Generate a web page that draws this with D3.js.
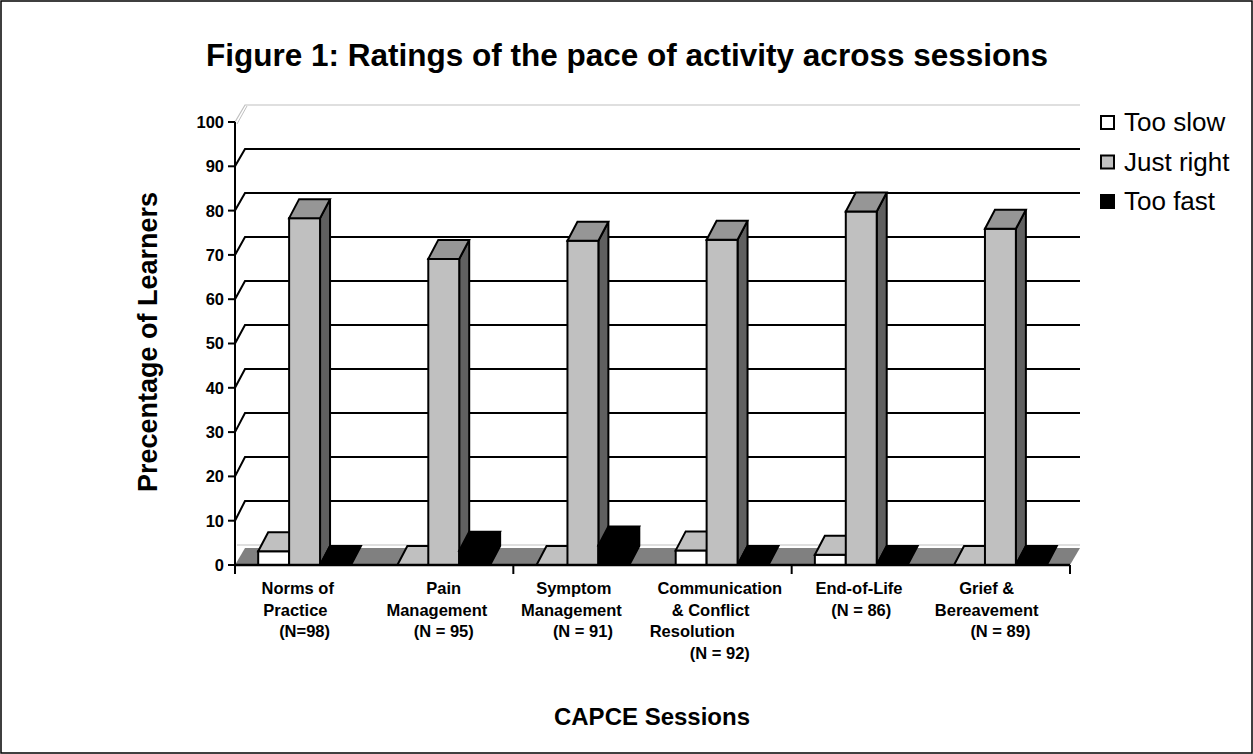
<!DOCTYPE html>
<html>
<head>
<meta charset="utf-8">
<script src="https://cdn.jsdelivr.net/npm/d3@7/dist/d3.min.js"></script>
<style>
  html, body { margin: 0; padding: 0; background: #fff; }
  svg { display: block; }
  text { font-family: Arial, "Liberation Sans", sans-serif; fill: #000; white-space: pre; }
</style>
</head>
<body>
<svg id="chart" width="1253" height="754"></svg>
<script>
// Session labels, one entry per line (spaces keep Excel-style offsets)
const categories = [
  ["Norms of   ", "Practice    ", "(N=98)"],
  ["Pain", "Management   ", "(N = 95)"],
  ["Symptom    ", "Management     ", "(N = 91)"],
  ["Communication ", "& Conflict     ", "Resolution             ", "(N = 92) "],
  ["End-of-Life ", "(N = 86)"],
  ["Grief &      ", "Bereavement      ", "(N = 89)"]
];
const seriesNames = ["Too slow", "Just right", "Too fast"];
const tooSlow   = [3.1, 0, 0, 3.3, 2.3, 0];
const justRight = [78.3, 69.1, 73.2, 73.4, 79.8, 75.9];
const tooFast   = [0, 3.2, 4.4, 0, 0, 0];
const yTicks = [0, 10, 20, 30, 40, 50, 60, 70, 80, 90, 100];

const values = [tooSlow, justRight, tooFast];
// front / top / side face colours per series
const faceColors = [
  { front: "#ffffff", top: "#c0c0c0", side: "#969696" },
  { front: "#c0c0c0", top: "#969696", side: "#606060" },
  { front: "#000000", top: "#000000", side: "#000000" }
];

const svg = d3.select("#chart");

// outer chart border
svg.append("rect").attr("x", 1).attr("y", 1).attr("width", 1251).attr("height", 752)
  .attr("fill", "none").attr("stroke", "#000").attr("stroke-width", 1.5);

// layout
const x0 = 235, x1 = 1070, yBase = 565, yTop = 122;
const wallDx = 10;            // depth offset of the back wall
const barDx = 10, barDy = 19; // depth offset of bars

const y = d3.scaleLinear().domain([0, 100]).range([yBase, yTop]);
const yBack = d3.scaleLinear().domain([0, 100]).range([545, 105]);
const xCat = d3.scaleBand().domain(d3.range(categories.length)).range([x0, x1]).paddingInner(0).paddingOuter(0);
const xSer = d3.scaleBand().domain(d3.range(seriesNames.length)).range([0, xCat.bandwidth()]).paddingInner(0).paddingOuter(0.75);

// back wall outline (light grey)
const wall = svg.append("g");
wall.append("path")
  .attr("d", `M${x0},${y(100)} L${x0 + wallDx},${yBack(100)} L${x1 + wallDx},${yBack(100)}`)
  .attr("fill", "none").attr("stroke", "#c0c0c0").attr("stroke-width", 1.2);
wall.append("path")
  .attr("d", `M${x0 + 2},${y(100) + 2} L${x0 + wallDx + 2},${yBack(100) + 1}`)
  .attr("fill", "none").attr("stroke", "#c0c0c0").attr("stroke-width", 1);
wall.append("line")
  .attr("x1", x0 + 2).attr("x2", x1 + wallDx).attr("y1", yBack(0)).attr("y2", yBack(0))
  .attr("stroke", "#c0c0c0").attr("stroke-width", 1.2);

// gridlines along the side and back wall
const grid = svg.append("g");
yTicks.filter(v => v > 0 && v < 100).forEach(v => {
  grid.append("path")
    .attr("d", `M${x0},${y(v)} L${x0 + wallDx},${yBack(v)} L${x1 + wallDx},${yBack(v)}`)
    .attr("fill", "none").attr("stroke", "#000").attr("stroke-width", 2);
});

// floor
svg.append("path")
  .attr("d", `M${x0},${yBase} L${x1},${yBase} L${x1 + wallDx},${yBase - 17} L${x0 + wallDx},${yBase - 17} Z`)
  .attr("fill", "#808080").attr("stroke", "none");

// bars (drawn left to right so neighbours overlap side faces correctly)
const bars = svg.append("g").attr("stroke", "#000").attr("stroke-width", 2).attr("stroke-linejoin", "miter");
categories.forEach((c, i) => {
  values.forEach((series, j) => {
    const v = series[i];
    const bx = xCat(i) + xSer(j);
    const bw = xSer.bandwidth();
    const yt = y(v);
    const col = faceColors[j];
    const g = bars.append("g");
    if (v > 0) {
      g.append("path")
        .attr("d", `M${bx + bw},${yBase} L${bx + bw},${yt} L${bx + bw + barDx},${yt - barDy} L${bx + bw + barDx},${yBase - barDy} Z`)
        .attr("fill", col.side);
      g.append("rect").attr("x", bx).attr("y", yt).attr("width", bw).attr("height", yBase - yt)
        .attr("fill", col.front);
    }
    g.append("path")
      .attr("d", `M${bx},${yt} L${bx + bw},${yt} L${bx + bw + barDx},${yt - barDy} L${bx + barDx},${yt - barDy} Z`)
      .attr("fill", col.top);
  });
});

// y axis
const yAxis = svg.append("g");
yAxis.append("line").attr("x1", x0).attr("x2", x0).attr("y1", y(100)).attr("y2", yBase + 8)
  .attr("stroke", "#000").attr("stroke-width", 2);
yTicks.forEach(v => {
  yAxis.append("line").attr("x1", x0 - 7).attr("x2", x0).attr("y1", y(v)).attr("y2", y(v))
    .attr("stroke", "#000").attr("stroke-width", 2);
  yAxis.append("text").attr("x", 224).attr("y", y(v)).attr("dy", "0.36em")
    .attr("text-anchor", "end").attr("font-size", 16.5).attr("font-weight", "bold").text(v);
});

// x axis line, ticks every second category boundary
const xAxis = svg.append("g");
xAxis.append("line").attr("x1", x0).attr("x2", x1).attr("y1", yBase).attr("y2", yBase)
  .attr("stroke", "#000").attr("stroke-width", 2.5);
const tickPos = d3.range(0, categories.length, 2).map(i => xCat(i)).concat([x1]);
tickPos.forEach(p => {
  xAxis.append("line").attr("x1", p).attr("x2", p).attr("y1", yBase).attr("y2", yBase + 9)
    .attr("stroke", "#000").attr("stroke-width", 2);
});

// category labels
categories.forEach((lines, i) => {
  const cx = xCat(i) + xCat.bandwidth() / 2;
  const t = svg.append("text").attr("text-anchor", "middle")
    .attr("font-size", 16.5).attr("font-weight", "bold");
  lines.forEach((ln, k) => {
    t.append("tspan").attr("x", cx).attr("y", 594 + k * 21.7).text(ln);
  });
});

// legend
const legend = svg.append("g");
seriesNames.forEach((name, j) => {
  const by = 131 + j * 39.5;
  legend.append("rect").attr("x", 1101).attr("y", by - 15).attr("width", 13).attr("height", 13)
    .attr("fill", faceColors[j].front).attr("stroke", "#000").attr("stroke-width", 2);
  legend.append("text").attr("x", 1124).attr("y", by).attr("font-size", 26).text(name);
});

// titles
svg.append("text").attr("x", 627).attr("y", 66).attr("text-anchor", "middle")
  .attr("font-size", 31.5).attr("font-weight", "bold")
  .text("Figure 1: Ratings of the pace of activity across sessions");
svg.append("text").attr("transform", "translate(157,342) rotate(-90)").attr("text-anchor", "middle")
  .attr("font-size", 27).attr("font-weight", "bold").text("Precentage of Learners");
svg.append("text").attr("x", 652).attr("y", 725).attr("text-anchor", "middle")
  .attr("font-size", 24).attr("font-weight", "bold").text("CAPCE Sessions");
</script>
</body>
</html>
